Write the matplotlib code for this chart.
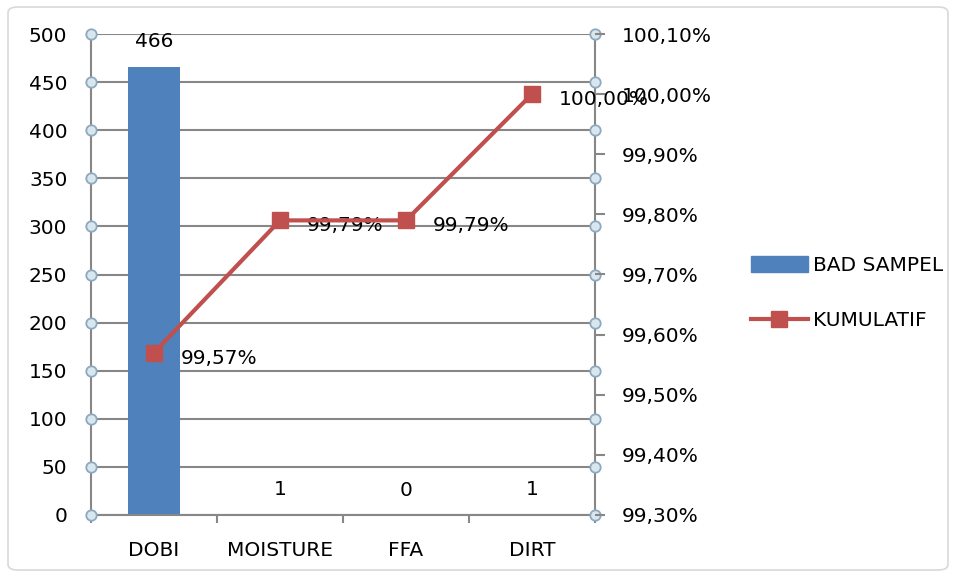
import matplotlib
matplotlib.use("Agg")
import matplotlib.pyplot as plt
from matplotlib.patches import Patch, FancyBboxPatch
from matplotlib.lines import Line2D
from matplotlib.ticker import FixedLocator, FuncFormatter

categories = ["DOBI", "MOISTURE", "FFA", "DIRT"]
bad_sampel = [466, 1, 0, 1]
kumulatif = [99.57, 99.79, 99.79, 100.00]
left_ticks = [0, 50, 100, 150, 200, 250, 300, 350, 400, 450, 500]
right_ticks = [99.30, 99.40, 99.50, 99.60, 99.70, 99.80, 99.90, 100.00, 100.10]

BAR_BLUE = "#4F81BD"
LINE_RED = "#C0504D"
GRID = "#878787"
FS = 14.5

plt.rcParams["font.family"] = ["DejaVu Sans"]

fig = plt.figure(figsize=(9.56, 5.77), dpi=100)
fig.patches.append(FancyBboxPatch((8 / 956, 7 / 577), 940 / 956, 563 / 577,
                                  boxstyle="round,pad=0,rounding_size=0.01",
                                  transform=fig.transFigure, fill=False,
                                  edgecolor="#d9d9d9", linewidth=1.2))

ax = fig.add_axes([91 / 956, 62 / 577, 504 / 956, 481 / 577])
x = list(range(len(categories)))

ax.bar(x, bad_sampel, width=0.41, color=BAR_BLUE, zorder=2)
ax.set_xlim(-0.5, len(categories) - 0.5)
ax.set_ylim(0, 500)
ax.yaxis.set_major_locator(FixedLocator(left_ticks))
ax.yaxis.grid(True, color=GRID, linewidth=1.5, zorder=0)
ax.set_axisbelow(True)

for xi, v in zip(x, bad_sampel):
    ax.annotate(f"{v}", (xi, v), xytext=(0, 18), textcoords="offset points",
                ha="center", va="center", fontsize=FS)

ax.set_xticks(x)
ax.set_xticklabels(categories, fontsize=FS)
ax.tick_params(axis="x", which="major", length=0, pad=19)
ax.set_xticks([i - 0.5 for i in range(len(categories) + 1)], minor=True)
ax.tick_params(axis="x", which="minor", length=6, width=1.5, color=GRID,
               direction="out")
ax.tick_params(axis="y", length=0, pad=17, labelsize=FS)

for side in ["left", "bottom", "right"]:
    ax.spines[side].set_color(GRID)
    ax.spines[side].set_linewidth(1.5)
ax.spines["top"].set_visible(False)

# handle circles at both ends of each gridline
trans = ax.get_yaxis_transform()
for yv in left_ticks:
    for xe in (0, 1):
        ax.plot([xe], [yv], transform=trans, marker="o", markersize=7.5,
                markerfacecolor="#d7e6ef", markeredgecolor="#8ea8bd",
                markeredgewidth=1.3, clip_on=False, zorder=5)

ax2 = ax.twinx()
ax2.plot(x, kumulatif, color=LINE_RED, linewidth=3, marker="s",
         markersize=11, zorder=4)
ax2.set_ylim(99.30, 100.10)
ax2.yaxis.set_major_locator(FixedLocator(right_ticks))
ax2.yaxis.set_major_formatter(FuncFormatter(lambda v, p: f"{v:.2f}%".replace(".", ",")))
ax2.tick_params(axis="y", length=7, width=1.5, color=GRID, pad=12, labelsize=FS)
for side in ["left", "bottom", "right", "top"]:
    ax2.spines[side].set_visible(False)

for xi, v in zip(x, kumulatif):
    ax2.annotate(f"{v:.2f}%".replace(".", ","), (xi, v), xytext=(19, -4),
                 textcoords="offset points", ha="left", va="center", fontsize=FS)

handles = [Patch(facecolor=BAR_BLUE, edgecolor=BAR_BLUE),
           Line2D([0], [0], color=LINE_RED, linewidth=3, marker="s", markersize=11)]
fig.legend(handles, ["BAD SAMPEL", "KUMULATIF"], loc="center left",
           bbox_to_anchor=(733 / 956, 1 - 293 / 577), frameon=False,
           fontsize=FS, handlelength=2.8, handleheight=0.8, handletextpad=0.25,
           labelspacing=1.8)

fig.savefig("out.png", dpi=100)
